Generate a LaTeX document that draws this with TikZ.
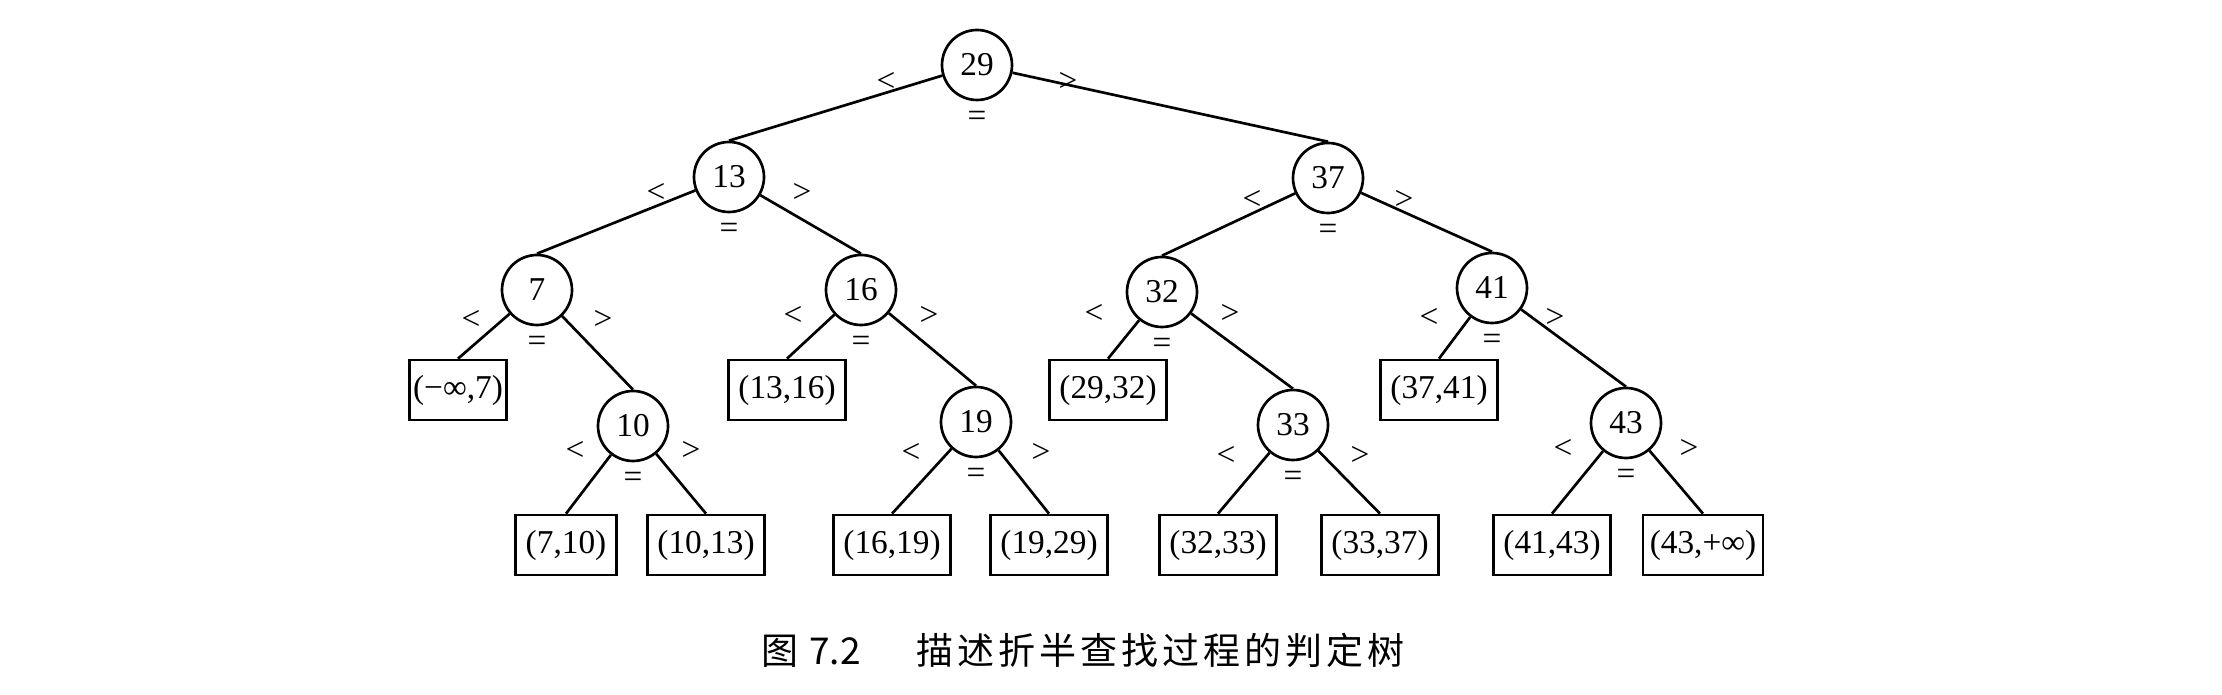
\documentclass[tikz,border=0pt]{standalone}
\usepackage{fontspec}
\setmainfont{Liberation Serif}
\newfontfamily\cjk{Noto Sans CJK SC}
\newfontfamily\cjkwide[LetterSpace=11]{Noto Sans CJK SC}
\usepackage{tikz}

\begin{document}
\begin{tikzpicture}
  [
  x=0.3pt,y=-0.3pt,
  vertex/.style={circle,thick,draw,minimum size=21pt,inner sep=0pt},
  leaf/.style={rectangle,thick,draw,minimum height=18pt,inner xsep=3pt,inner ysep=0pt},
  edge/.style={thick},
  sign/.style={inner sep=0pt}
  ]
  \useasboundingbox (0,0) rectangle (2222,695);
  \node[vertex] (29) at (977,65) {29};
  \node[vertex] (13) at (729,177) {13};
  \node[vertex] (37) at (1328,178) {37};
  \node[vertex] (7) at (537,290) {7};
  \node[vertex] (16) at (861,290) {16};
  \node[vertex] (32) at (1162,292) {32};
  \node[vertex] (41) at (1492,288) {41};
  \node[vertex] (10) at (633,426) {10};
  \node[vertex] (19) at (976,422) {19};
  \node[vertex] (33) at (1293,425) {33};
  \node[vertex] (43) at (1626,423) {43};
  \node[leaf,inner xsep=1pt] (l0) at (458,390) {(−∞,7)};
  \node[leaf] (l1) at (566,545) {(7,10)};
  \node[leaf] (l2) at (706,545) {(10,13)};
  \node[leaf] (l3) at (787,390) {(13,16)};
  \node[leaf] (l4) at (892,545) {(16,19)};
  \node[leaf] (l5) at (1049,545) {(19,29)};
  \node[leaf] (l6) at (1108,390) {(29,32)};
  \node[leaf] (l7) at (1218,545) {(32,33)};
  \node[leaf] (l8) at (1380,545) {(33,37)};
  \node[leaf] (l9) at (1439,390) {(37,41)};
  \node[leaf] (l10) at (1552,545) {(41,43)};
  \node[leaf,inner xsep=2pt] (l11) at (1703,545) {(43,+∞)};
  \foreach \a/\b in {29/13,29/37,13/7,13/16,7/l0,7/10,10/l1,10/l2,16/l3,16/19,19/l4,19/l5,
                     37/32,37/41,32/l6,32/33,33/l7,33/l8,41/l9,41/43,43/l10,43/l11}
    \draw[edge] (\a) -- (\b.north);
  \foreach \v/\dx/\dy in {29/91/17,13/73/16,37/76/22,7/66/30,16/68/26,32/68/22,
                          41/63/30,10/58/25,19/65/31,33/67/31,43/63/26}
    {
    \node[sign] (lt\v) at ([shift={(-\dx,\dy)}]\v.center) {<};
    \node[sign] (gt\v) at ([shift={(\dx,\dy)}]\v.center) {>};
    \node[sign] (eq\v) at ([shift={(0,54)}]\v.center) {=};
    }
  \node (cap) at (1083,650) {\fontsize{11.1pt}{14pt}\cjk 图\hspace{0.3em}7.2\hspace{1.5em}\cjkwide 描述折半查找过程的判定树};
\end{tikzpicture}
\end{document}
